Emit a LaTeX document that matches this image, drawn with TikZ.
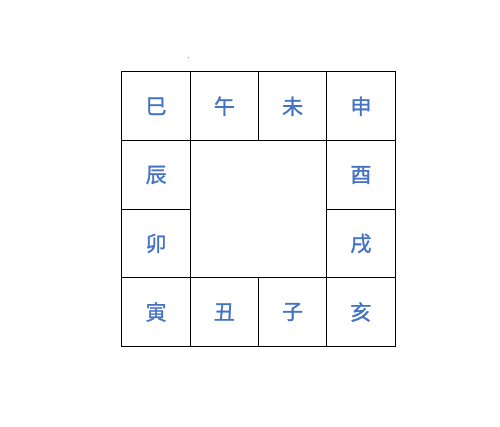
\documentclass[tikz,border=0pt]{standalone}
\usepackage{fontspec}
\newfontfamily\cjk[FakeBold=1.2]{Noto Sans CJK SC}
\definecolor{txtblue}{HTML}{4472C4}
\begin{document}
\begin{tikzpicture}[x=1pt,y=1pt,
  cell/.style={draw=black, line width=1pt, minimum width=68.25pt, minimum height=68.5pt, inner sep=0pt, outer sep=0pt, font=\cjk\fontsize{21}{21}\selectfont, text=txtblue}]
\useasboundingbox (0,0) rectangle (500,427);
\fill[white] (0,0) rectangle (500,427);
\def\ca{156.1}\def\cb{224.4}\def\cc{292.6}\def\cd{360.9}
\def\ra{320.75}\def\rb{252.0}\def\rc{183.5}\def\rd{115.0}
\node[cell] (si)   at (\ca,\ra) {巳};
\node[cell] (wu)   at (\cb,\ra) {午};
\node[cell] (wei)  at (\cc,\ra) {未};
\node[cell] (shen) at (\cd,\ra) {申};
\node[cell] (chen) at (\ca,\rb) {辰};
\node[cell] (you)  at (\cd,\rb) {酉};
\node[cell] (mao)  at (\ca,\rc) {卯};
\node[cell] (xu)   at (\cd,\rc) {戌};
\node[cell] (yin)  at (\ca,\rd) {寅};
\node[cell] (chou) at (\cb,\rd) {丑};
\node[cell] (zi)   at (\cc,\rd) {子};
\node[cell] (hai)  at (\cd,\rd) {亥};
\node[inner sep=0pt, font=\small] (dot) at (189,369) {.};
\end{tikzpicture}
\end{document}
